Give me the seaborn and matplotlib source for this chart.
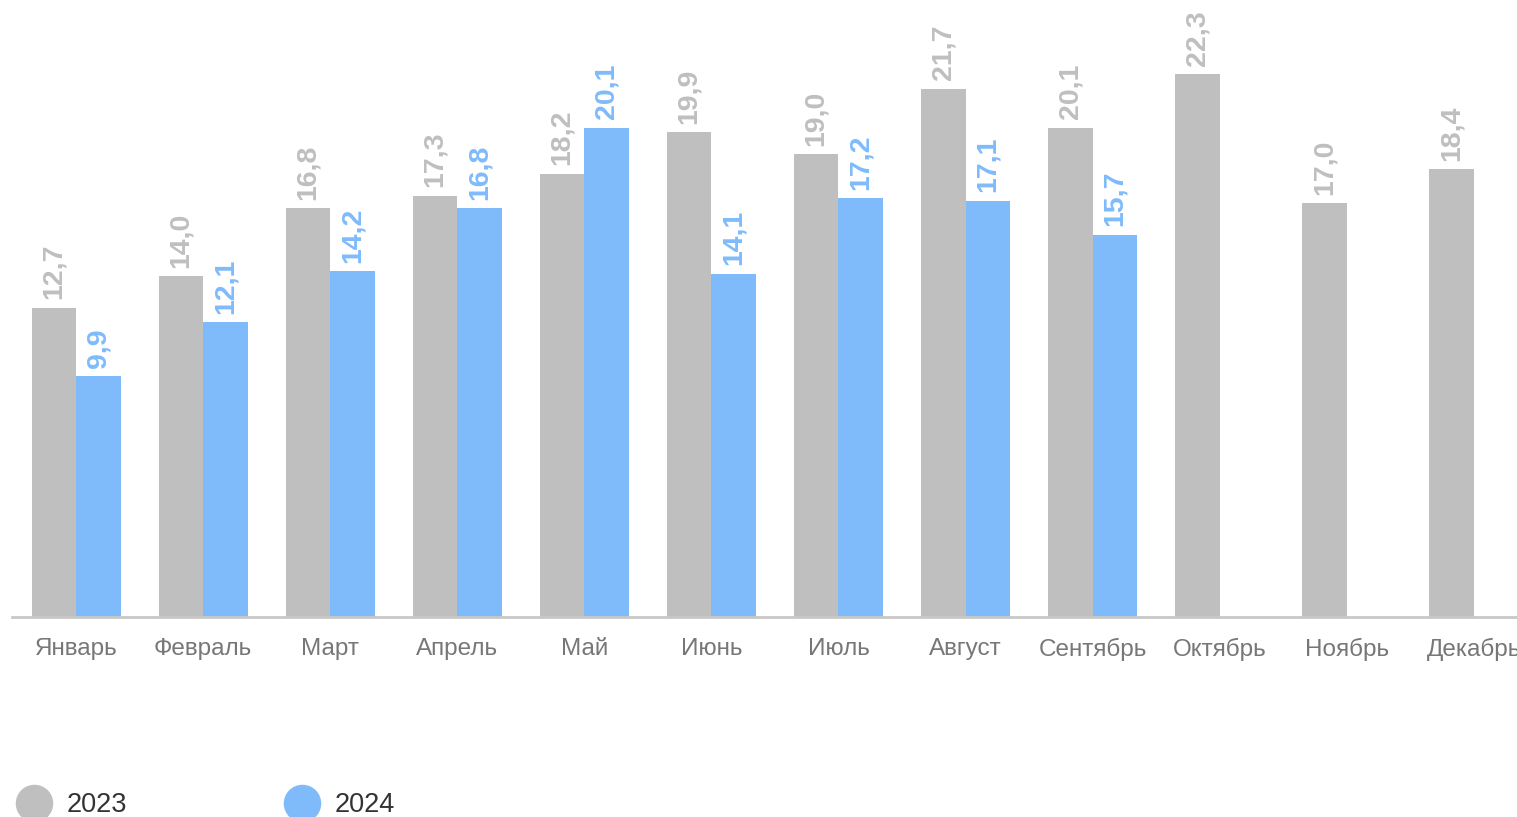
import matplotlib
matplotlib.use("Agg")
import matplotlib.pyplot as plt
import seaborn as sns
import pandas as pd
import numpy as np
from matplotlib.lines import Line2D

months = ["Январь", "Февраль", "Март", "Апрель", "Май", "Июнь", "Июль",
          "Август", "Сентябрь", "Октябрь", "Ноябрь", "Декабрь"]
values_2023 = [12.7, 14.0, 16.8, 17.3, 18.2, 19.9, 19.0, 21.7, 20.1, 22.3, 17.0, 18.4]
values_2024 = [9.9, 12.1, 14.2, 16.8, 20.1, 14.1, 17.2, 17.1, 15.7, np.nan, np.nan, np.nan]
years = ["2023", "2024"]
colors = ["#BFBFBF", "#7FBBFB"]

df = pd.DataFrame({
    "month": months * 2,
    "value": values_2023 + values_2024,
    "year": [years[0]] * 12 + [years[1]] * 12,
})

sns.set_theme(style="white")
plt.rcParams["font.family"] = ["Liberation Sans", "DejaVu Sans"]

W, H = 1517, 817
fig = plt.figure(figsize=(W / 100, H / 100), dpi=100)
ax = fig.add_axes([12 / W, 200 / H, 1 - 12 / W, (617 - 32.6) / H])

sns.barplot(data=df, x="month", y="value", hue="year", order=months,
            hue_order=years, palette=colors, width=0.7, saturation=1,
            ax=ax, legend=False, linewidth=0)

ax.set_xlim(-0.504, 11.34)
ax.set_ylim(0, 24)

for cont, col in zip(ax.containers, colors):
    labels = []
    for b in cont:
        h = b.get_height()
        labels.append("" if np.isnan(h) else f"{h:.1f}".replace(".", ","))
    ax.bar_label(cont, labels=labels, rotation=90, padding=6, color=col,
                 fontsize=20.5, fontweight="bold", clip_on=False)

for s in ["top", "right", "left"]:
    ax.spines[s].set_visible(False)
ax.spines["bottom"].set_color("#C8C8C8")
ax.spines["bottom"].set_linewidth(2)
ax.set_yticks([])
ax.set_xlabel("")
ax.set_ylabel("")
ax.tick_params(axis="x", length=0, pad=15, labelsize=17.5, labelcolor="#777777")

handles = [Line2D([0], [0], marker="o", linestyle="none", markersize=26,
                  markerfacecolor=c, markeredgecolor=c) for c in colors]
fig.legend(handles, years, loc="center left",
           bbox_to_anchor=(15.5 / W, 12 / H), bbox_transform=fig.transFigure,
           ncol=2, frameon=False, fontsize=19.5, handlelength=1.4,
           handletextpad=0.5, columnspacing=5.75, borderpad=0,
           borderaxespad=0, labelcolor="#333333")

fig.savefig("out.png", dpi=100)
